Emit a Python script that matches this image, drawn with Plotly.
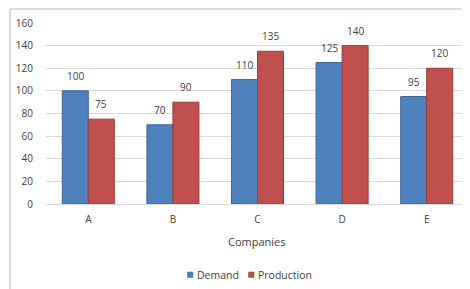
import plotly.graph_objects as go

companies = ["A", "B", "C", "D", "E"]
demand = [100, 70, 110, 125, 95]
production = [75, 90, 135, 140, 120]
y_ticks = [0, 20, 40, 60, 80, 100, 120, 140, 160]
series_names = ["Demand", "Production"]
series_colors = ["#4F81BD", "#C0504D"]
series_lines = ["#3A659A", "#963C3A"]

# page body has an 8px default margin; work in screen pixels and offset
OFF = 8
SW, SH = 470, 289
W, H = SW - OFF, SH - OFF
PL, PR, PT, PB = 46, 469, 23, 204   # plot area in screen pixels
L, T = PL - OFF, PT - OFF
R, B = SW - PR, SH - PB
pw, ph = PR - PL, PB - PT

def px_x(p):
    return (p - PL) / pw

def px_y(p):
    return (PB - p) / ph

FONT = "Open Sans"
TXT = "#404040"
BARGAP = 0.385
slot = pw / len(companies)
bar_w = slot * (1 - BARGAP) / 2

fig = go.Figure()
annotations = []
for i, (name, vals) in enumerate(zip(series_names, [demand, production])):
    fig.add_trace(go.Bar(
        name=name, x=companies, y=vals,
        marker=dict(color=series_colors[i], line=dict(color=series_lines[i], width=1)),
        showlegend=False,
    ))
    shift = (i - 0.5) * bar_w
    for c, v in zip(companies, vals):
        annotations.append(dict(
            x=c, y=v, xref="x", yref="y", text=str(v), showarrow=False,
            xanchor="center", yanchor="bottom", xshift=shift, yshift=6,
            font=dict(family=FONT, size=10, color=TXT)))

annotations.append(dict(text="Companies", xref="paper", yref="paper",
                        x=px_x(257), y=px_y(241), showarrow=False,
                        xanchor="center", yanchor="middle",
                        font=dict(family=FONT, size=11, color=TXT)))

# custom legend
legend_items = [(187.5, 195), (248.5, 256)]
shapes = []
for (sx, tx), name, col, lc in zip(legend_items, series_names, series_colors, series_lines):
    shapes.append(dict(type="rect", xref="paper", yref="paper",
                       x0=px_x(sx), x1=px_x(sx + 5.5), y0=px_y(272), y1=px_y(277.5),
                       fillcolor=col, line=dict(color=lc, width=0.5)))
    annotations.append(dict(text=name, xref="paper", yref="paper",
                            x=px_x(tx), y=px_y(274.5), showarrow=False,
                            xanchor="left", yanchor="middle",
                            font=dict(family=FONT, size=10.5, color=TXT)))

shapes += [
    dict(type="line", xref="paper", yref="paper",
         x0=px_x(10), x1=px_x(10), y0=px_y(9), y1=px_y(300),
         line=dict(color="#D0D0D0", width=1.5)),
    dict(type="line", xref="paper", yref="paper",
         x0=px_x(10), x1=px_x(480), y0=px_y(9), y1=px_y(9),
         line=dict(color="#D0D0D0", width=1.5)),
]

fig.update_layout(
    width=W, height=H,
    margin=dict(l=L, r=R, t=T, b=B, pad=0, autoexpand=False),
    paper_bgcolor="white", plot_bgcolor="white",
    barmode="group", bargap=BARGAP, bargroupgap=0,
    font=dict(family=FONT, size=10, color=TXT),
    showlegend=False,
    xaxis=dict(showgrid=False, showline=True, linecolor="#D9D9D9",
               tickfont=dict(size=10, color=TXT), ticks="outside",
               ticklen=6, tickcolor="rgba(0,0,0,0)", automargin=False),
    yaxis=dict(range=[0, 160], tickvals=y_ticks, showgrid=True,
               gridcolor="#D9D9D9", gridwidth=1, zeroline=False,
               showline=False, tickfont=dict(size=10, color=TXT),
               ticks="outside", ticklen=10, tickcolor="rgba(0,0,0,0)",
               automargin=False),
    annotations=annotations,
    shapes=shapes,
)

fig.write_html("out.html")
